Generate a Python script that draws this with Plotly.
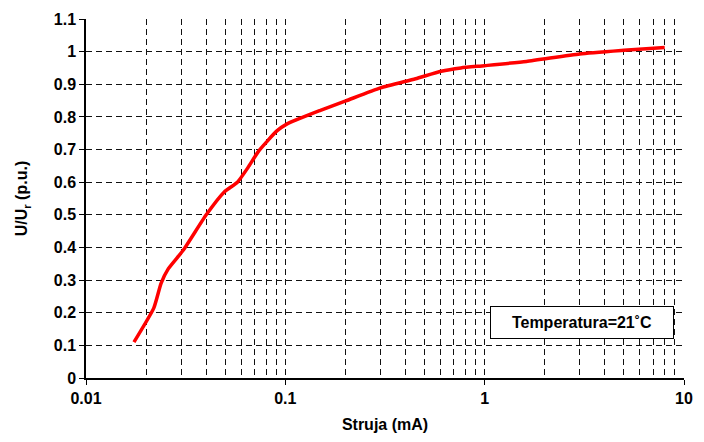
import plotly.graph_objects as go

# Measured characteristic: current (mA) vs. per-unit voltage
struja_ma = [0.0174, 0.0219, 0.0238, 0.0259, 0.0308, 0.0401, 0.0494, 0.0575, 0.0650,
             0.0736, 0.0907, 0.1016, 0.15, 0.201, 0.30, 0.45, 0.605, 0.76, 1.0,
             1.62, 3.0, 5.0, 8.0]
napon_pu = [0.110, 0.215, 0.290, 0.335, 0.392, 0.500, 0.570, 0.600, 0.645,
            0.696, 0.757, 0.778, 0.820, 0.849, 0.889, 0.917, 0.940, 0.950, 0.957,
            0.970, 0.993, 1.004, 1.013]

x_major = [0.01, 0.1, 1, 10]
x_major_labels = ["0.01", "0.1", "1", "10"]
y_ticks = [0, 0.1, 0.2, 0.3, 0.4, 0.5, 0.6, 0.7, 0.8, 0.9, 1.0, 1.1]
y_tick_labels = ["0", "0.1", "0.2", "0.3", "0.4", "0.5", "0.6", "0.7", "0.8", "0.9", "1", "1.1"]
temperatura_label = "Temperatura=21˚C"

# minor log grid: 2..9 within each decade
x_minor = [m * d for d in (0.01, 0.1, 1) for m in range(2, 10)]

FONT = "Liberation Sans, Arial, sans-serif"
DASH = "6px,4px"
BOLD = dict(family=FONT, size=16, color="black", weight="bold")

fig = go.Figure()
fig.add_trace(go.Scatter(
    x=struja_ma, y=napon_pu, mode="lines",
    line=dict(color="#ff0000", width=3.5, shape="spline", smoothing=0.5),
    showlegend=False, hoverinfo="x+y",
))

fig.update_layout(
    width=704, height=442,
    margin=dict(l=86, r=11, t=17, b=63),
    paper_bgcolor="white", plot_bgcolor="white",
    font=BOLD,
    xaxis=dict(
        type="log", range=[-2, 1],
        tickvals=x_major, ticktext=x_major_labels,
        tickfont=BOLD,
        ticks="outside", ticklen=5, tickwidth=1, tickcolor="black",
        showline=True, linecolor="black", linewidth=1.5, mirror=False,
        showgrid=True, gridcolor="#111111", griddash=DASH, gridwidth=1,
        minor=dict(tickvals=x_minor, showgrid=True, gridcolor="#111111",
                   griddash=DASH, gridwidth=1, ticks=""),
        zeroline=False,
        title=dict(text="Struja (mA)", standoff=13, font=BOLD),
    ),
    yaxis=dict(
        range=[0, 1.1],
        tickvals=y_ticks, ticktext=y_tick_labels,
        tickfont=BOLD,
        ticks="outside", ticklen=5, tickwidth=1, tickcolor="black",
        showline=True, linecolor="black", linewidth=1.5,
        showgrid=True, gridcolor="#111111", griddash=DASH, gridwidth=1,
        zeroline=False,
        title=dict(text="U/U<sub>r</sub> (p.u.)", standoff=22, font=BOLD),
    ),
    annotations=[dict(
        text=temperatura_label, xref="paper", yref="paper",
        x=0.8286, y=0.1556, xanchor="center", yanchor="middle",
        showarrow=False, bgcolor="white", bordercolor="black", borderwidth=1,
        width=182, height=31, borderpad=0,
        font=BOLD,
    )],
)

fig.write_html("out.html")
